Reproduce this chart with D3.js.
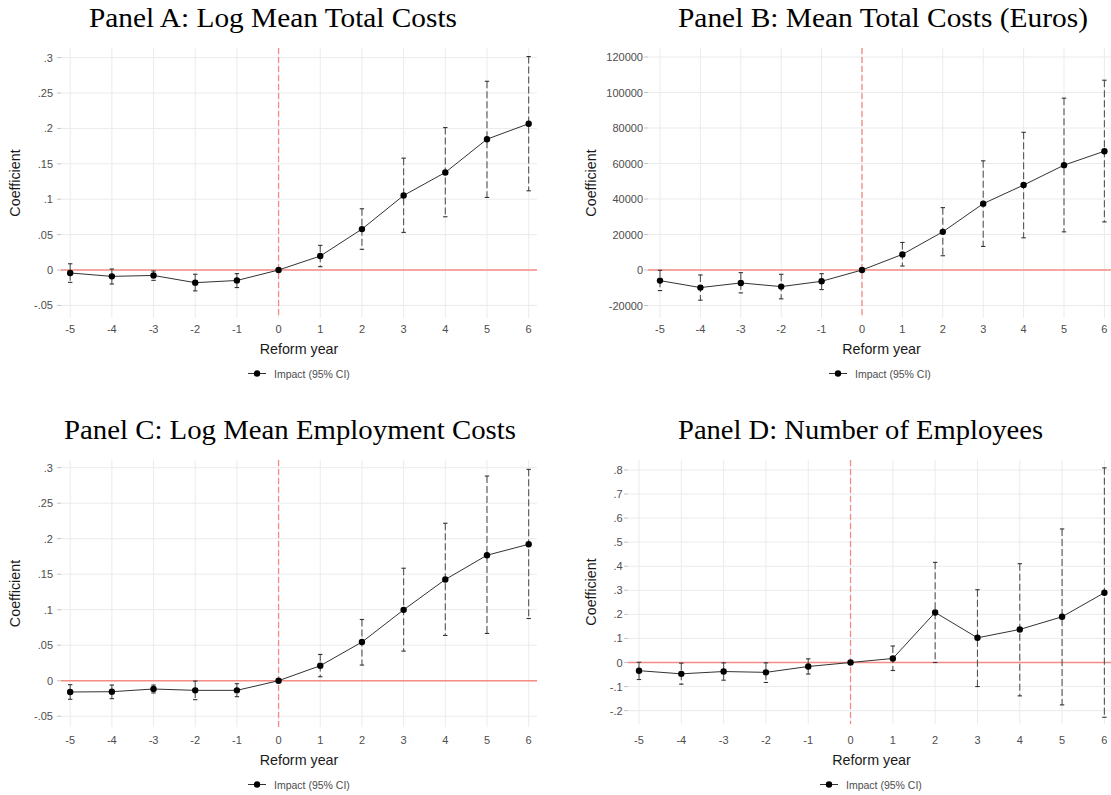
<!DOCTYPE html>
<html>
<head>
<meta charset="utf-8">
<script src="https://cdn.jsdelivr.net/npm/d3@7"></script>
<style>
  body { margin: 0; background: #fff; }
  svg { display: block; }
</style>
</head>
<body>
<svg id="chart" width="1111" height="795"></svg>
<script>
// Event-study estimates: coefficient and 95% CI by year relative to the reform
const years = [-5, -4, -3, -2, -1, 0, 1, 2, 3, 4, 5, 6];
const xTickLabels = ["-5", "-4", "-3", "-2", "-1", "0", "1", "2", "3", "4", "5", "6"];

// Panel A: log mean total costs
const coefA = [-0.0042, -0.0090, -0.0077, -0.0179, -0.0148, 0, 0.0197, 0.0578, 0.1053, 0.1378, 0.1848, 0.2066];
const loA   = [-0.0175, -0.0198, -0.0146, -0.0295, -0.0248, 0, 0.0047, 0.0292, 0.0531, 0.0752, 0.1025, 0.1119];
const hiA   = [ 0.0088,  0.0014, -0.0014, -0.0060, -0.0051, 0, 0.0348, 0.0865, 0.1580, 0.2012, 0.2666, 0.3015];

// Panel B: mean total costs in euros
const coefB = [-5980, -9900, -7290, -9350, -6360, 0, 8790, 21500, 37380, 47850, 59070, 66920];
const loB   = [-11590, -17010, -12900, -16260, -11030, 0, 2240, 8040, 13270, 18130, 21500, 27100];
const hiB   = [-190, -2800, -1500, -2430, -2060, 0, 15510, 35140, 61500, 77570, 96820, 106920];

// Panel C: log mean employment costs
const coefC = [-0.0159, -0.0155, -0.0117, -0.0136, -0.0136, 0, 0.0211, 0.0544, 0.0998, 0.1425, 0.1767, 0.1921];
const loC   = [-0.0262, -0.0253, -0.0173, -0.0267, -0.0225, 0, 0.0056, 0.0220, 0.0417, 0.0637, 0.0665, 0.0876];
const hiC   = [-0.0056, -0.0061, -0.0061, -0.0005, -0.0042, 0, 0.0370, 0.0862, 0.1584, 0.2217, 0.2882, 0.2976];

// Panel D: number of employees
const coefD = [-0.0340, -0.0471, -0.0375, -0.0410, -0.0166, 0, 0.0167, 0.2080, 0.1026, 0.1373, 0.1900, 0.2899];
const loD   = [-0.0707, -0.0900, -0.0735, -0.0830, -0.0480, 0, -0.0333, 0.0000, -0.0999, -0.1387, -0.1761, -0.2275];
const hiD   = [ 0.0010, -0.0028, -0.0014, -0.0014,  0.0153, 0, 0.0685, 0.4160, 0.3024, 0.4105, 0.5548, 0.8086];

// Y-axis ticks and their labels
const yTicksLog  = [-0.05, 0, 0.05, 0.1, 0.15, 0.2, 0.25, 0.3];
const yLabelsLog = ["-.05", "0", ".05", ".1", ".15", ".2", ".25", ".3"];
const yTicksEuro  = [-20000, 0, 20000, 40000, 60000, 80000, 100000, 120000];
const yLabelsEuro = ["-20000", "0", "20000", "40000", "60000", "80000", "100000", "120000"];
const yTicksEmp  = [-0.2, -0.1, 0, 0.1, 0.2, 0.3, 0.4, 0.5, 0.6, 0.7, 0.8];
const yLabelsEmp = ["-.2", "-.1", "0", ".1", ".2", ".3", ".4", ".5", ".6", ".7", ".8"];

const titles = [
  "Panel A: Log Mean Total Costs",
  "Panel B: Mean Total Costs (Euros)",
  "Panel C: Log Mean Employment Costs",
  "Panel D: Number of Employees"
];
const legendLabel = "Impact (95% CI)";
const xAxisTitle = "Reform year";
const yAxisTitle = "Coefficient";

// Panel geometry
const panels = [
  { title: titles[0], coef: coefA, lo: loA, hi: hiA, yTicks: yTicksLog, yLabels: yLabelsLog,
    frame: { x0: 61, x1: 537, y0: 48, y1: 318 }, xDom: [-5.22, 6.2], yDom: [-0.0678, 0.3136],
    titlePos: { x: 89, y: 27, w: 368 }, yLabelX: 53, yTitleX: 15,
    xLabelY: 328.5, xTitleY: 348.5, legendY: 373.5, legendX: 248 },
  { title: titles[1], coef: coefB, lo: loB, hi: hiB, yTicks: yTicksEuro, yLabels: yLabelsEuro,
    frame: { x0: 648, x1: 1112, y0: 48, y1: 318 }, xDom: [-5.297, 6.188], yDom: [-27040, 125070],
    titlePos: { x: 678, y: 27, w: 410 }, yLabelX: 643, yTitleX: 591,
    xLabelY: 328.5, xTitleY: 348.5, legendY: 373.5, legendX: 829 },
  { title: titles[2], coef: coefC, lo: loC, hi: hiC, yTicks: yTicksLog, yLabels: yLabelsLog,
    frame: { x0: 61, x1: 537, y0: 460, y1: 727 }, xDom: [-5.22, 6.2], yDom: [-0.0652, 0.3108],
    titlePos: { x: 64, y: 439.3, w: 452 }, yLabelX: 53, yTitleX: 15,
    xLabelY: 739.5, xTitleY: 760, legendY: 784.5, legendX: 248 },
  { title: titles[3], coef: coefD, lo: loD, hi: hiD, yTicks: yTicksEmp, yLabels: yLabelsEmp,
    frame: { x0: 628, x1: 1112, y0: 460, y1: 724 }, xDom: [-5.26, 6.18], yDom: [-0.2555, 0.8413],
    titlePos: { x: 678, y: 439.3, w: 365 }, yLabelX: 622.7, yTitleX: 591,
    xLabelY: 740, xTitleY: 760, legendY: 784.5, legendX: 820 }
];

const svg = d3.select("#chart");
const sans = "'Liberation Sans', Arial, sans-serif";
const serif = "'Liberation Serif', 'Times New Roman', serif";
const gridColor = "#ebebeb";
const tickText = "#4d4d4d";
const refRed = "#f48b85";

panels.forEach(p => {
  const f = p.frame;
  const x = d3.scaleLinear().domain(p.xDom).range([f.x0, f.x1]);
  const y = d3.scaleLinear().domain(p.yDom).range([f.y1, f.y0]);
  const g = svg.append("g");

  // Title
  g.append("text")
    .attr("x", p.titlePos.x).attr("y", p.titlePos.y)
    .attr("textLength", p.titlePos.w).attr("lengthAdjust", "spacingAndGlyphs")
    .attr("font-family", serif).attr("font-size", 28).attr("fill", "#000")
    .text(p.title);

  // Gridlines
  g.append("g").selectAll("line").data(p.yTicks).join("line")
    .attr("x1", f.x0).attr("x2", f.x1)
    .attr("y1", d => y(d)).attr("y2", d => y(d))
    .attr("stroke", gridColor).attr("stroke-width", 1);
  g.append("g").selectAll("line").data(years).join("line")
    .attr("x1", d => x(d)).attr("x2", d => x(d))
    .attr("y1", f.y0).attr("y2", f.y1)
    .attr("stroke", gridColor).attr("stroke-width", 1);

  // Y axis: small ticks and labels
  g.append("g").selectAll("line").data(p.yTicks).join("line")
    .attr("x1", f.x0 - 4).attr("x2", f.x0)
    .attr("y1", d => y(d)).attr("y2", d => y(d))
    .attr("stroke", "#c4c4c4").attr("stroke-width", 1);
  g.append("g").selectAll("text").data(p.yTicks).join("text")
    .attr("x", p.yLabelX).attr("y", d => y(d))
    .attr("text-anchor", "end").attr("dominant-baseline", "central")
    .attr("font-family", sans).attr("font-size", 11).attr("fill", tickText)
    .text((d, i) => p.yLabels[i]);

  // X axis labels
  g.append("g").selectAll("text").data(years).join("text")
    .attr("x", d => x(d)).attr("y", p.xLabelY)
    .attr("text-anchor", "middle").attr("dominant-baseline", "central")
    .attr("font-family", sans).attr("font-size", 11).attr("fill", tickText)
    .text((d, i) => xTickLabels[i]);

  // Axis titles
  g.append("text")
    .attr("x", (f.x0 + Math.min(f.x1, 1111)) / 2 + (p.legendX > 600 ? 2 : 0)).attr("y", p.xTitleY)
    .attr("text-anchor", "middle").attr("dominant-baseline", "central")
    .attr("font-family", sans).attr("font-size", 14.3).attr("fill", "#1a1a1a")
    .text(xAxisTitle);
  g.append("text")
    .attr("transform", `translate(${p.yTitleX},${(f.y0 + f.y1) / 2}) rotate(-90)`)
    .attr("text-anchor", "middle").attr("dominant-baseline", "central")
    .attr("font-family", sans).attr("font-size", 14.3).attr("fill", "#1a1a1a")
    .text(yAxisTitle);

  // Reference lines: zero effect and reform date
  g.append("line")
    .attr("x1", f.x0).attr("x2", f.x1).attr("y1", y(0)).attr("y2", y(0))
    .attr("stroke", refRed).attr("stroke-width", 1.5);
  g.append("line")
    .attr("x1", x(0)).attr("x2", x(0)).attr("y1", f.y0).attr("y2", f.y1)
    .attr("stroke", refRed).attr("stroke-width", 1.3).attr("stroke-dasharray", "6,3");

  // Confidence intervals
  const rows = years.map((yr, i) => ({ yr, c: p.coef[i], lo: p.lo[i], hi: p.hi[i] }))
  const ci = rows.filter(r => r.hi !== r.lo);
  g.append("g").selectAll("line").data(ci).join("line")
    .attr("x1", d => x(d.yr)).attr("x2", d => x(d.yr))
    .attr("y1", d => y(d.hi)).attr("y2", d => y(d.lo))
    .attr("stroke", "#555").attr("stroke-width", 1.1).attr("stroke-dasharray", "7,3");
  const caps = ci.flatMap(d => [{ yr: d.yr, v: d.hi }, { yr: d.yr, v: d.lo }]);
  g.append("g").selectAll("line").data(caps).join("line")
    .attr("x1", d => x(d.yr) - 2.2).attr("x2", d => x(d.yr) + 2.2)
    .attr("y1", d => y(d.v)).attr("y2", d => y(d.v))
    .attr("stroke", "#333").attr("stroke-width", 1.1);

  // Point estimates joined by a line
  g.append("path").datum(rows)
    .attr("d", d3.line().x(d => x(d.yr)).y(d => y(d.c)))
    .attr("fill", "none").attr("stroke", "#333").attr("stroke-width", 1);
  g.append("g").selectAll("circle").data(rows).join("circle")
    .attr("cx", d => x(d.yr)).attr("cy", d => y(d.c)).attr("r", 3.2)
    .attr("fill", "#000");

  // Legend
  const lg = g.append("g").attr("transform", `translate(${p.legendX},${p.legendY})`);
  lg.append("line").attr("x1", 0).attr("x2", 18).attr("y1", 0).attr("y2", 0)
    .attr("stroke", "#333").attr("stroke-width", 1);
  lg.append("circle").attr("cx", 9).attr("cy", 0).attr("r", 3.2).attr("fill", "#000");
  lg.append("text").attr("x", 26).attr("y", 0).attr("dominant-baseline", "central")
    .attr("font-family", sans).attr("font-size", 10.5).attr("fill", tickText)
    .text(legendLabel);
});
</script>
</body>
</html>
